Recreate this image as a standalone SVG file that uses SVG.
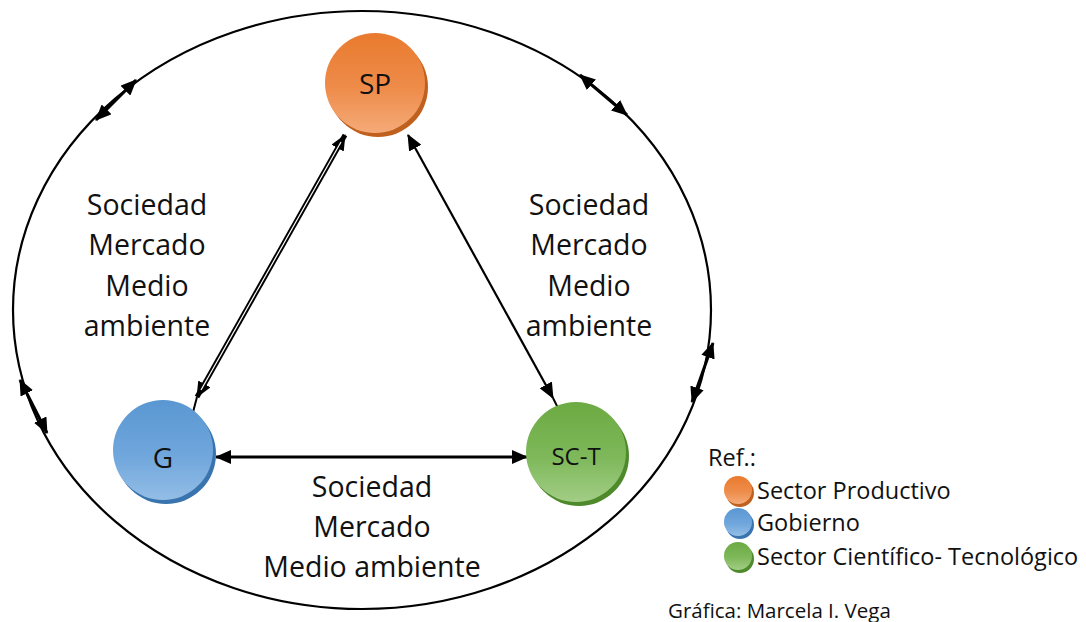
<svg xmlns="http://www.w3.org/2000/svg" width="1086" height="622" viewBox="0 0 1086 622">
<defs>
<marker id="ah" viewBox="0 0 16 14" refX="15" refY="7" markerWidth="16" markerHeight="14" markerUnits="userSpaceOnUse" orient="auto-start-reverse">
<path d="M0,0 L16,7 L0,14 Z" fill="#000"/>
</marker>
<linearGradient id="gO" x1="0" y1="0" x2="0" y2="1">
<stop offset="0" stop-color="#E97A2E"/><stop offset="0.55" stop-color="#EE8C4A"/><stop offset="1" stop-color="#F5AA78"/>
</linearGradient>
<linearGradient id="gB" x1="0" y1="0" x2="0" y2="1">
<stop offset="0" stop-color="#5A97D2"/><stop offset="0.55" stop-color="#6FA6DC"/><stop offset="1" stop-color="#93BDE6"/>
</linearGradient>
<linearGradient id="gG" x1="0" y1="0" x2="0" y2="1">
<stop offset="0" stop-color="#6CAA42"/><stop offset="0.55" stop-color="#7EB85A"/><stop offset="1" stop-color="#A2CD85"/>
</linearGradient>
</defs>
<style>
.t{font-family:"Open Sans","Noto Sans",sans-serif;fill:#111;}
.big{font-size:28.5px;text-anchor:middle;}
.lg{font-size:23.5px;}
.c{stroke:#000;fill:none;}
</style>
<rect width="1086" height="622" fill="#fff"/>
<g id="ambiente">
<ellipse cx="362" cy="310" rx="349" ry="299" fill="none" stroke="#000" stroke-width="2.2"/>
</g>
<g id="connectors">
<line class="c" x1="216" y1="457" x2="527" y2="457" stroke-width="3.2" marker-start="url(#ah)" marker-end="url(#ah)"/>
<line class="c" x1="345" y1="135" x2="197" y2="397" stroke-width="5" marker-start="url(#ah)" marker-end="url(#ah)"/>
<line x1="341" y1="142" x2="201" y2="390" stroke="#fff" stroke-width="1.2"/>
<line class="c" x1="197" y1="397" x2="192" y2="416" stroke-width="2"/>
<line class="c" x1="408" y1="135" x2="553" y2="398" stroke-width="2.2" marker-start="url(#ah)" marker-end="url(#ah)"/>
<line class="c" x1="553" y1="398" x2="558" y2="408" stroke-width="2"/>
<line class="c" x1="96" y1="120" x2="136" y2="80" stroke-width="3" marker-start="url(#ah)" marker-end="url(#ah)"/>
<line class="c" x1="580" y1="75" x2="627" y2="115" stroke-width="3" marker-start="url(#ah)" marker-end="url(#ah)"/>
<line class="c" x1="20" y1="380" x2="47" y2="433" stroke-width="3" marker-start="url(#ah)" marker-end="url(#ah)"/>
<line class="c" x1="713" y1="343" x2="692" y2="402" stroke-width="3" marker-start="url(#ah)" marker-end="url(#ah)"/>
</g>
<g id="SP">
<circle cx="378" cy="87" r="50" fill="#C0601F"/>
<circle cx="375" cy="83" r="50" fill="url(#gO)"/>
<text class="t" x="375" y="94" font-size="28" text-anchor="middle">SP</text>
</g>
<g id="G">
<circle cx="166" cy="454" r="50" fill="#3A74AE"/>
<circle cx="163" cy="450" r="50" fill="url(#gB)"/>
<text class="t" x="163" y="468" font-size="28" text-anchor="middle">G</text>
</g>
<g id="SCT">
<circle cx="579" cy="456" r="50" fill="#4E8A2C"/>
<circle cx="576" cy="452" r="50" fill="url(#gG)"/>
<text class="t" x="576" y="465" font-size="24" text-anchor="middle">SC-T</text>
</g>
<g id="label-left">
<text class="t big" x="147" y="215">Sociedad</text>
<text class="t big" x="147" y="255">Mercado</text>
<text class="t big" x="147" y="296">Medio</text>
<text class="t big" x="147" y="336">ambiente</text>
</g>
<g id="label-right">
<text class="t big" x="589" y="215">Sociedad</text>
<text class="t big" x="589" y="255">Mercado</text>
<text class="t big" x="589" y="296">Medio</text>
<text class="t big" x="589" y="336">ambiente</text>
</g>
<g id="label-bottom">
<text class="t big" x="372" y="497">Sociedad</text>
<text class="t big" x="372" y="537">Mercado</text>
<text class="t big" x="372" y="577">Medio ambiente</text>
</g>
<g id="legend">
<text class="t lg" x="708" y="466">Ref.:</text>
<circle cx="740" cy="493" r="14" fill="#C0601F"/>
<circle cx="738" cy="490" r="14" fill="url(#gO)"/>
<text class="t lg" x="757" y="499">Sector Productivo</text>
<circle cx="740" cy="525" r="14" fill="#3A74AE"/>
<circle cx="738" cy="522" r="14" fill="url(#gB)"/>
<text class="t lg" x="757" y="531">Gobierno</text>
<circle cx="740" cy="559" r="14" fill="#4E8A2C"/>
<circle cx="738" cy="556" r="14" fill="url(#gG)"/>
<text class="t lg" x="757" y="565">Sector Científico- Tecnológico</text>
<text class="t" x="668" y="618" font-size="20.5">Gráfica: Marcela I. Vega</text>
</g>
</svg>
